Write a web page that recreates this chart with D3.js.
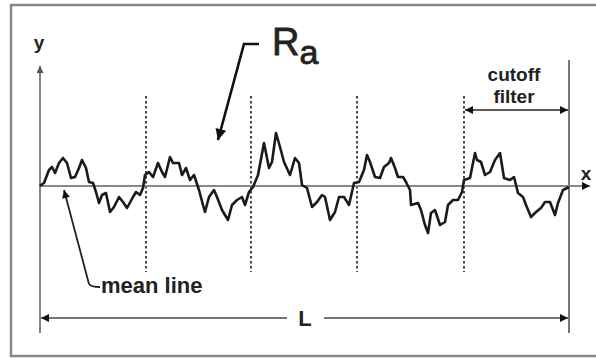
<!DOCTYPE html>
<html>
<head>
<meta charset="utf-8">
<script src="https://cdn.jsdelivr.net/npm/d3@7"></script>
<style>
  body { margin: 0; background: #fff; }
  text { font-family: "Liberation Sans", Arial, sans-serif; fill: #222; }
</style>
</head>
<body>
<script>
// profile position along evaluation length L (0..529) and height about mean line
const profileX = [0, 1, 4, 9, 12, 15, 19, 23, 27, 31, 35, 39, 42, 46, 49, 53, 56, 59, 62, 66, 70, 74, 79, 83, 87, 93, 96, 100, 103, 105,
  109, 113, 118, 122, 125, 130, 133, 139, 142, 146, 150, 154, 159, 163, 165, 169, 174, 177, 182, 188, 192, 197, 202, 205, 209, 213,
  218, 224, 229, 232, 236, 240, 244, 250, 255, 259, 262, 267, 272, 277, 282, 285, 290, 295, 299, 304, 309, 314, 319, 324, 327, 330,
  335, 340, 344, 349, 351, 355, 358, 363, 366, 370, 371, 378, 381, 385, 388, 391, 395, 400, 405, 408, 413, 418, 422, 424, 430, 435,
  437, 441, 445, 450, 455, 460, 464, 470, 474, 478, 483, 486, 491, 496, 501, 505, 510, 515, 518, 523, 529];
const profileY = [0, 1, 3, 16, 19, 13, 23, 28, 23, 8, 9, 18, 26, 18, 4, 3, -6, -17, -9, -7, -26, -21, -11, -16, -22, -11, -6, -9, -2, 11,
  14, 9, 23, 14, 9, 29, 23, 23, 11, 18, 6, 11, -4, -19, -26, -11, -4, -11, -24, -34, -19, -14, -11, -19, -6, -1,
  11, 43, 18, 24, 53, 39, 24, 11, 28, 23, 1, -2, -21, -16, -9, -11, -34, -26, -11, -11, -19, 3, 4, 16, 31, 24,
  9, 8, 19, 23, 28, 18, 9, 9, 4, -4, -19, -17, -24, -39, -47, -27, -24, -39, -36, -19, -14, -14, -6, 6, 8, 33,
  26, 24, 11, 14, 26, 33, 8, 6, 9, -7, -11, -19, -31, -26, -22, -16, -16, -29, -17, -4, -1];
// sampling length boundaries (cutoff positions)
const cutoffs = [106, 211, 317, 424];
const evalLength = 529;
const labels = { rough: 'R', sub: 'a', mean: 'mean line', cutoffTop: 'cutoff', cutoffBottom: 'filter', length: 'L', yAxis: 'y', xAxis: 'x' };

const width = 596, height = 358;

const svg = d3.select('body')
  .append('svg')
  .attr('width', width)
  .attr('height', height);

const x = d3.scaleLinear().domain([0, evalLength]).range([40, 569]);
const y = d3.scaleLinear().domain([-60, 60]).range([246, 126]);

const defs = svg.append('defs');
function marker(id, color, w, h) {
  defs.append('marker')
    .attr('id', id)
    .attr('viewBox', '0 0 10 10')
    .attr('refX', 10).attr('refY', 5)
    .attr('markerUnits', 'userSpaceOnUse')
    .attr('markerWidth', w).attr('markerHeight', h)
    .attr('orient', 'auto-start-reverse')
    .append('path')
    .attr('d', 'M0,0 L10,5 L0,10 Z')
    .attr('fill', color);
}
marker('arrGray', '#555', 10, 7);
marker('arrDark', '#111', 12, 8);
marker('arrBig', '#111', 14, 11);

// frame
svg.append('rect')
  .attr('x', 11).attr('y', 5)
  .attr('width', 600).attr('height', 351)
  .attr('fill', 'none')
  .attr('stroke', '#888')
  .attr('stroke-width', 2.5);

// y axis
svg.append('line')
  .attr('x1', x(0)).attr('x2', x(0))
  .attr('y1', 333).attr('y2', 66)
  .attr('stroke', '#666').attr('stroke-width', 1.6)
  .attr('marker-end', 'url(#arrGray)');

svg.append('text')
  .attr('x', x(0) - 1).attr('y', 49)
  .attr('text-anchor', 'middle')
  .attr('font-size', 19).attr('font-weight', 'bold')
  .text(labels.yAxis);

// right end of evaluation length
svg.append('line')
  .attr('x1', x(evalLength)).attr('x2', x(evalLength))
  .attr('y1', 60).attr('y2', 333)
  .attr('stroke', '#555').attr('stroke-width', 1.6);

// sampling length dividers
svg.selectAll('line.cut')
  .data(cutoffs)
  .enter()
  .append('line')
  .attr('class', 'cut')
  .attr('x1', d => x(d)).attr('x2', d => x(d))
  .attr('y1', 96).attr('y2', 272)
  .attr('stroke', '#333')
  .attr('stroke-width', 1.8)
  .attr('stroke-dasharray', '2.5,2.5');

// mean line / x axis
svg.append('line')
  .attr('x1', x(0)).attr('x2', 590)
  .attr('y1', y(0)).attr('y2', y(0))
  .attr('stroke', '#888').attr('stroke-width', 2.2)
  .attr('marker-end', 'url(#arrDark)');

svg.append('text')
  .attr('x', 586).attr('y', 180)
  .attr('text-anchor', 'middle')
  .attr('font-size', 19).attr('font-weight', 'bold')
  .text(labels.xAxis);

// profile
const points = profileX.map((d, i) => [d, profileY[i]]);
const line = d3.line()
  .x(d => x(d[0]))
  .y(d => y(d[1]));

svg.append('path')
  .datum(points)
  .attr('fill', 'none')
  .attr('stroke', '#1a1a1a')
  .attr('stroke-width', 2.6)
  .attr('stroke-linejoin', 'round')
  .attr('d', line);

// cutoff filter arrow
svg.append('line')
  .attr('x1', x(cutoffs[3]) + 1).attr('x2', x(evalLength) - 1)
  .attr('y1', 110).attr('y2', 110)
  .attr('stroke', '#222').attr('stroke-width', 1.6)
  .attr('marker-start', 'url(#arrDark)')
  .attr('marker-end', 'url(#arrDark)');

svg.append('text')
  .attr('x', 514).attr('y', 81)
  .attr('text-anchor', 'middle')
  .attr('font-size', 19).attr('font-weight', 'bold')
  .text(labels.cutoffTop);

svg.append('text')
  .attr('x', 514).attr('y', 103)
  .attr('text-anchor', 'middle')
  .attr('font-size', 19).attr('font-weight', 'bold')
  .text(labels.cutoffBottom);

// R_a label and pointer
const ra = svg.append('text')
  .attr('x', 272).attr('y', 55)
  .attr('font-size', 38)
  .attr('stroke', '#222').attr('stroke-width', 0.8);
ra.append('tspan').text(labels.rough);
ra.append('tspan').attr('dy', 9).attr('font-size', 34).text(labels.sub);

svg.append('path')
  .attr('d', 'M259,44 L244,44 L218,140')
  .attr('fill', 'none')
  .attr('stroke', '#111').attr('stroke-width', 2.6)
  .attr('marker-end', 'url(#arrBig)');

// mean line pointer
svg.append('path')
  .attr('d', 'M89,284 Q91,287 100,287 M89,284 L64,190')
  .attr('fill', 'none')
  .attr('stroke', '#222').attr('stroke-width', 1.8)
  .attr('marker-end', 'url(#arrDark)');

svg.append('text')
  .attr('x', 101).attr('y', 293)
  .attr('font-size', 22).attr('font-weight', 'bold')
  .text(labels.mean);

// evaluation length L
svg.append('line')
  .attr('x1', x(0) + 1).attr('x2', 287)
  .attr('y1', 318).attr('y2', 318)
  .attr('stroke', '#444').attr('stroke-width', 1.5)
  .attr('marker-start', 'url(#arrDark)');

svg.append('line')
  .attr('x1', 324).attr('x2', x(evalLength) - 1)
  .attr('y1', 318).attr('y2', 318)
  .attr('stroke', '#444').attr('stroke-width', 1.5)
  .attr('marker-end', 'url(#arrDark)');

svg.append('text')
  .attr('x', 305).attr('y', 326)
  .attr('text-anchor', 'middle')
  .attr('font-size', 22).attr('font-weight', 'bold')
  .text(labels.length);
</script>
</body>
</html>
